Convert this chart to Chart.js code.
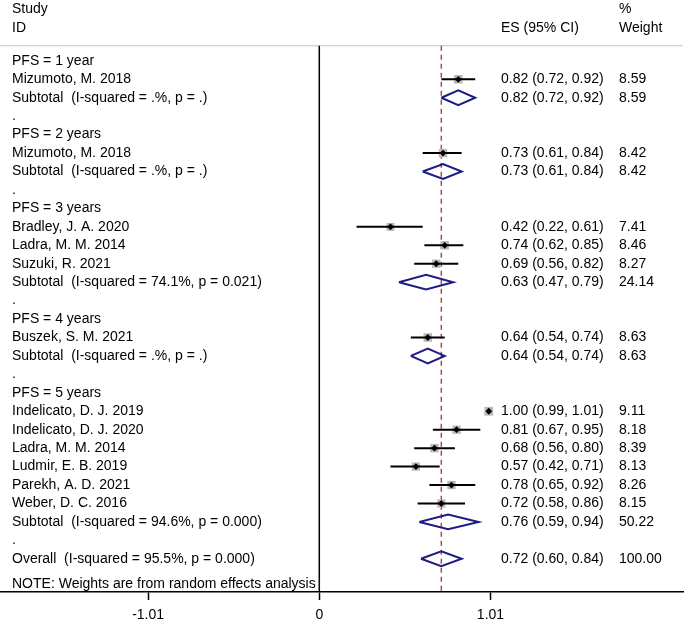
<!DOCTYPE html>
<html><head><meta charset="utf-8">
<script src="https://cdn.jsdelivr.net/npm/chart.js@4/dist/chart.umd.min.js"></script>
<style>html,body{margin:0;padding:0;background:#fff}</style>
</head><body>
<canvas id="c" width="685" height="620"></canvas>
<script>
const groupLabels = ['PFS = 1 year','PFS = 2 years','PFS = 3 years','PFS = 4 years','PFS = 5 years'];
const studyNames = ['Mizumoto, M. 2018','Mizumoto, M. 2018','Bradley, J. A. 2020','Ladra, M. M. 2014','Suzuki, R. 2021','Buszek, S. M. 2021','Indelicato, D. J. 2019','Indelicato, D. J. 2020','Ladra, M. M. 2014','Ludmir, E. B. 2019','Parekh, A. D. 2021','Weber, D. C. 2016'];
const studyGroup = [0,1,2,2,2,3,4,4,4,4,4,4];
const studyES = [0.82,0.73,0.42,0.74,0.69,0.64,1.00,0.81,0.68,0.57,0.78,0.72];
const studyLo = [0.72,0.61,0.22,0.62,0.56,0.54,0.99,0.67,0.56,0.42,0.65,0.58];
const studyHi = [0.92,0.84,0.61,0.85,0.82,0.74,1.01,0.95,0.80,0.71,0.92,0.86];
const studyWeight = [8.59,8.42,7.41,8.46,8.27,8.63,9.11,8.18,8.39,8.13,8.26,8.15];
const subtotalHet = ['I-squared = .%, p = .','I-squared = .%, p = .','I-squared = 74.1%, p = 0.021','I-squared = .%, p = .','I-squared = 94.6%, p = 0.000'];
const subtotalES = [0.82,0.73,0.63,0.64,0.76];
const subtotalLo = [0.72,0.61,0.47,0.54,0.59];
const subtotalHi = [0.92,0.84,0.79,0.74,0.94];
const subtotalWeight = [8.59,8.42,24.14,8.63,50.22];
const overallHet = 'I-squared = 95.5%, p = 0.000';
const overallES = 0.72, overallLo = 0.60, overallHi = 0.84, overallWeight = 100.00;
const xTickValues = [-1.01, 0, 1.01];
const xTickLabels = ['-1.01','0','1.01'];
const noteText = 'NOTE: Weights are from random effects analysis';

// build rows
const rows = [];
groupLabels.forEach((g, gi) => {
  rows.push({label: g, type: 'head'});
  studyNames.forEach((n, i) => {
    if (studyGroup[i] === gi) rows.push({label: n, type: 'study', es: studyES[i], lo: studyLo[i], hi: studyHi[i], w: studyWeight[i]});
  });
  rows.push({label: 'Subtotal  (' + subtotalHet[gi] + ')', type: 'sub', es: subtotalES[gi], lo: subtotalLo[gi], hi: subtotalHi[gi], w: subtotalWeight[gi]});
  rows.push({label: '.', type: 'dot'});
});
rows.push({label: 'Overall  (' + overallHet + ')', type: 'sub', es: overallES, lo: overallLo, hi: overallHi, w: overallWeight});

const squares = [], squareR = [], ciLines = [], dots = [], diamonds = [];
const DH = 0.4;
rows.forEach((r, y) => {
  if (r.type === 'study') {
    squares.push({x: r.es, y}); squareR.push(2.05 * Math.sqrt(r.w));
    ciLines.push({x: r.lo, y}, {x: r.hi, y}, {x: null, y: null});
    dots.push({x: r.es, y});
  } else if (r.type === 'sub') {
    diamonds.push({x: r.lo, y}, {x: r.es, y: y - DH}, {x: r.hi, y}, {x: r.es, y: y + DH}, {x: r.lo, y}, {x: null, y: null});
  }
});

const FONT = '14px "Liberation Sans", Arial, sans-serif';
const NAVY = '#1c1c84';

const forestPlugin = {
  id: 'forest',
  beforeDatasetsDraw(chart) {
    const {ctx, chartArea, scales: {x, y}} = chart;
    const topY = y.getPixelForValue(-0.82);
    ctx.save();
    ctx.strokeStyle = '#c4c4c4'; ctx.lineWidth = 1.2;
    ctx.beginPath(); ctx.moveTo(chartArea.left, topY); ctx.lineTo(chartArea.right, topY); ctx.stroke();
    const x0 = x.getPixelForValue(0);
    ctx.strokeStyle = '#000'; ctx.lineWidth = 1.5;
    ctx.beginPath(); ctx.moveTo(x0, topY); ctx.lineTo(x0, chartArea.bottom); ctx.stroke();
    const xo = x.getPixelForValue(overallES);
    ctx.strokeStyle = '#b04858'; ctx.lineWidth = 1.5; ctx.setLineDash([5, 4]);
    ctx.beginPath(); ctx.moveTo(xo, topY); ctx.lineTo(xo, chartArea.bottom); ctx.stroke();
    ctx.restore();
  },
  afterDraw(chart) {
    const {ctx, scales: {y}} = chart;
    ctx.save();
    ctx.font = FONT; ctx.fillStyle = '#000'; ctx.textBaseline = 'middle'; ctx.textAlign = 'left';
    const LX = 12, EX = 501, WX = 619;
    ctx.fillText('Study', LX, y.getPixelForValue(-2.8));
    ctx.fillText('ID', LX, y.getPixelForValue(-1.78));
    ctx.fillText('ES (95% CI)', EX, y.getPixelForValue(-1.78));
    ctx.fillText('%', WX, y.getPixelForValue(-2.8));
    ctx.fillText('Weight', WX, y.getPixelForValue(-1.78));
    rows.forEach((r, i) => {
      const py = y.getPixelForValue(i);
      ctx.fillText(r.label, LX, py);
      if (r.type === 'study' || r.type === 'sub') {
        ctx.fillText(r.es.toFixed(2) + ' (' + r.lo.toFixed(2) + ', ' + r.hi.toFixed(2) + ')', EX, py);
        ctx.fillText(r.w.toFixed(2), WX, py);
      }
    });
    ctx.fillText(noteText, LX, y.getPixelForValue(28.36));
    ctx.restore();
  }
};

new Chart(document.getElementById('c'), {
  type: 'scatter',
  data: {
    datasets: [
      {data: squares, pointStyle: 'rect', pointRadius: squareR, backgroundColor: '#b8b8b8', borderWidth: 0, order: 3},
      {data: ciLines, showLine: true, spanGaps: false, borderColor: '#000', borderWidth: 2, pointRadius: 0, order: 2},
      {data: dots, pointStyle: 'rectRot', pointRadius: 3.4, backgroundColor: '#000', borderWidth: 0, order: 1},
      {data: diamonds, showLine: true, spanGaps: false, borderColor: NAVY, borderWidth: 2, borderJoinStyle: 'miter', pointRadius: 0, order: 1}
    ]
  },
  options: {
    responsive: false, animation: false, devicePixelRatio: 1, events: [],
    layout: {autoPadding: false, padding: {left: 0, right: 2, top: 0, bottom: 0}},
    plugins: {legend: {display: false}, tooltip: {enabled: false}},
    scales: {
      x: {
        type: 'linear', min: -1.884, max: 2.146,
        afterBuildTicks: s => { s.ticks = xTickValues.map(v => ({value: v})); },
        ticks: {callback: (v, i) => xTickLabels[i], color: '#000', font: {family: '"Liberation Sans", Arial, sans-serif', size: 14}, padding: 7, maxRotation: 0, autoSkip: false},
        grid: {drawOnChartArea: false, drawTicks: true, tickLength: 8, tickColor: '#000', tickWidth: 1.5},
        border: {display: true, color: '#000', width: 1.5},
        afterFit: s => { s.height = 28; }
      },
      y: {type: 'linear', reverse: true, min: -3.3, max: 28.8, display: false}
    }
  },
  plugins: [forestPlugin]
});
</script>
</body></html>
